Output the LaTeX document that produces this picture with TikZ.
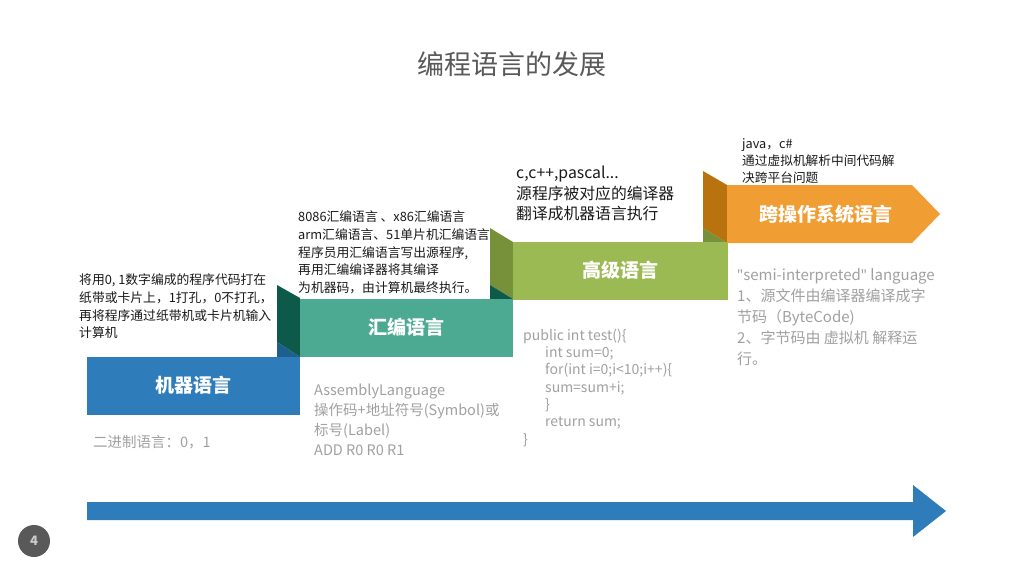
\documentclass[tikz,border=0pt]{standalone}
\usepackage{fontspec}
\setmainfont{Noto Sans CJK SC}
\newfontfamily\latinfont{Noto Sans}
\definecolor{blueA}{HTML}{2E7CBA}
\definecolor{blueB}{HTML}{1F5F8F}
\definecolor{tealA}{HTML}{4CAA92}
\definecolor{tealB}{HTML}{0D5A4A}
\definecolor{greenA}{HTML}{9CBA54}
\definecolor{greenB}{HTML}{77913A}
\definecolor{orangeA}{HTML}{F09D33}
\definecolor{orangeB}{HTML}{B8730F}
\definecolor{greyT}{HTML}{A0A0A0}
\definecolor{darkT}{HTML}{595959}
\begin{document}
\begin{tikzpicture}[x=1pt,y=-1pt,
    stepbox/.style={minimum height=58pt,inner sep=0pt,text=white,
      font=\fontsize{19}{22}\selectfont\bfseries},
    note/.style={anchor=north west,inner sep=0pt,align=left,text=black!90,
      font=\fontsize{12.8}{17.7}\selectfont},
    greynote/.style={anchor=north west,inner sep=0pt,align=left,text=greyT,
      font=\fontsize{14.5}{19.8}\selectfont}]
  \useasboundingbox (0,0) rectangle (1024,576);
  % Judul
  \node[text=darkT,font=\fontsize{27}{30}\selectfont] (judul) at (512,64) {编程语言的发展};
  % Lipatan tangga
  \fill[tealB] (277,285) -- (300,298) -- (300,357) -- (277,342) -- cycle;
  \fill[blueB] (277,342) -- (300,357) -- (277,357) -- cycle;
  \fill[greenB] (490,228) -- (513,242) -- (513,299) -- (490,285) -- cycle;
  \fill[tealB] (490,285) -- (513,299) -- (490,299) -- cycle;
  \fill[orangeB] (703,171) -- (727,185) -- (727,243) -- (703,228) -- cycle;
  \fill[greenB] (703,228) -- (727,243) -- (703,243) -- cycle;
  % Anak tangga
  \node[stepbox,fill=blueA,minimum width=213pt] (mesin) at (193.5,385.5) {机器语言};
  \node[stepbox,fill=tealA,minimum width=213pt] (rakitan) at (406.5,327.5) {汇编语言};
  \node[stepbox,fill=greenA,minimum width=215pt] (tinggi) at (620.5,270.5) {高级语言};
  \fill[orangeA] (727,185) -- (912,185) -- (940,214) -- (912,243) -- (727,243) -- cycle;
  \node[stepbox,minimum height=0pt] (lintas) at (826,214) {跨操作系统语言};
  % Keterangan di atas
  \node[note] (k1) at (79,273.6) {将用0, 1数字编成的程序代码打在\\纸带或卡片上，1打孔，0不打孔，\\再将程序通过纸带机或卡片机输入\\计算机};
  \node[note] (k2) at (298,210.6) {8086汇编语言 、x86汇编语言\\arm汇编语言、51单片机汇编语言\\程序员用汇编语言写出源程序,\\再用汇编编译器将其编译\\为机器码，由计算机最终执行。};
  \node[note,font=\fontsize{15.8}{20.5}\selectfont] (k3) at (516,166) {c,c++,pascal...\\源程序被对应的编译器\\翻译成机器语言执行};
  \node[note,font=\fontsize{12.7}{17}\selectfont] (k4) at (742,138.4) {java，c\#\\通过虚拟机解析中间代码解\\决跨平台问题};
  % Keterangan di bawah
  \node[greynote] (b1) at (93,434.7) {二进制语言：0，1};
  \node[greynote] (b2) at (314,384) {AssemblyLanguage\\操作码+地址符号(Symbol)或\\标号(Label)\\ADD R0 R0 R1};
  \node[greynote,font=\fontsize{14}{17.3}\selectfont] (b3) at (523,328.7)
    {public int test()\{\\\hspace*{22pt}int sum=0;\\\hspace*{22pt}for(int i=0;i<10;i++)\{\\\hspace*{22pt}sum=sum+i;\\\hspace*{22pt}\}\\\hspace*{22pt}return sum;\\\}};
  \node[greynote,font=\fontsize{15}{21}\selectfont] (b4) at (737,268.3) {{\latinfont "}semi-interpreted{\latinfont "} language\\1、源文件由编译器编译成字\\节码（ByteCode)\\2、字节码由 虚拟机 解释运\\行。};
  % Panah waktu
  \fill[blueA] (87,502) -- (913,502) -- (913,485) -- (946,511) -- (913,537) -- (913,520) -- (87,520) -- cycle;
  % Nomor halaman
  \node[circle,fill=darkT,minimum size=32pt,inner sep=0pt,text=white!80!black,
    font=\fontsize{13}{13}\selectfont\bfseries] (hal) at (34,541) {4};
\end{tikzpicture}
\end{document}
